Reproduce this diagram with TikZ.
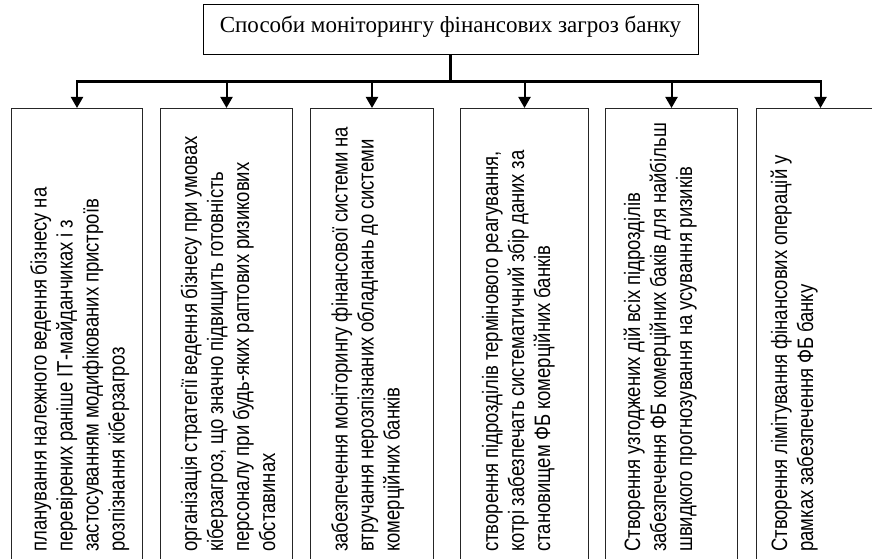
\documentclass[tikz,border=0pt]{standalone}
\usepackage{fontspec}
\setmainfont{Liberation Serif}
\newfontfamily\boxfont[FakeStretch=0.83,WordSpace={0.9,0,0}]{Liberation Sans}
\usetikzlibrary{arrows.meta}
\tikzset{
  topbox/.style={draw=black, line width=1pt, minimum width=495pt, minimum height=50pt,
    inner sep=0pt, text height=16pt, text depth=10pt,
    font=\fontsize{23}{26}\selectfont},
  optbox/.style={draw=black!85, line width=1pt, minimum height=480pt, inner sep=0pt, anchor=north west},
  optext/.style={rotate=90, anchor=base west, inner sep=0pt, text width=480pt, align=flush left,
    font=\boxfont\fontsize{22.3}{26}\selectfont},
  trunk/.style={line width=2.6pt, line cap=rect},
  arrowline/.style={line width=2pt, -{Triangle[width=12pt,length=11pt]}}
}
\begin{document}
\begin{tikzpicture}[x=1pt,y=-1pt]
\path[use as bounding box] (0,0) rectangle (872,559);
\clip (0,0) rectangle (872,559);

\node[topbox] (top) at (450.5,30) {Способи моніторингу фінансових загроз банку};

\node[optbox, minimum width=131pt] (b1) at (11,108) {};
\node[optbox, minimum width=132pt] (b2) at (160,108) {};
\node[optbox, minimum width=123pt] (b3) at (310,108) {};
\node[optbox, minimum width=128pt] (b4) at (460,108) {};
\node[optbox, minimum width=132pt] (b5) at (605,108) {};
\node[optbox, minimum width=128pt] (b6) at (756,108) {};

\node[optext] (t1) at (46.5,552) {планування належного ведення бізнесу на\\перевірених раніше ІТ-майданчиках і з\\застосуванням модифікованих пристроїв\\розпізнання кіберзагроз};
\node[optext] (t2) at (197,552) {організація стратегії ведення бізнесу при умовах\\кіберзагроз, що значно підвищить готовність\\персоналу при будь-яких раптових ризикових\\обставинах};
\node[optext] (t3) at (347.5,552) {забезпечення моніторингу фінансової системи на\\втручання нерозпізнаних обладнань до системи\\комерційних банків};
\node[optext] (t4) at (498,552) {створення підрозділів термінового реагування,\\котрі забезпечать систематичний збір даних за\\становищем ФБ комерційних банків};
\node[optext] (t5) at (640,552) {Створення узгоджених дій всіх підрозділів\\забезпечення ФБ комерційних баків для найбільш\\швидкого прогнозування на усування ризиків};
\node[optext] (t6) at (787,552) {Створення лімітування фінансових операцій у\\рамках забезпечення ФБ банку};

\coordinate (bus) at (450,81.5);
\draw[trunk] (top.south) -- (top.south |- bus);
\draw[trunk] (b1.north |- bus) -- (b6.north |- bus);
\foreach \b in {b1,b2,b3,b4,b5,b6}
  \draw[arrowline] (\b.north |- bus) -- (\b.north);
\end{tikzpicture}
\end{document}
